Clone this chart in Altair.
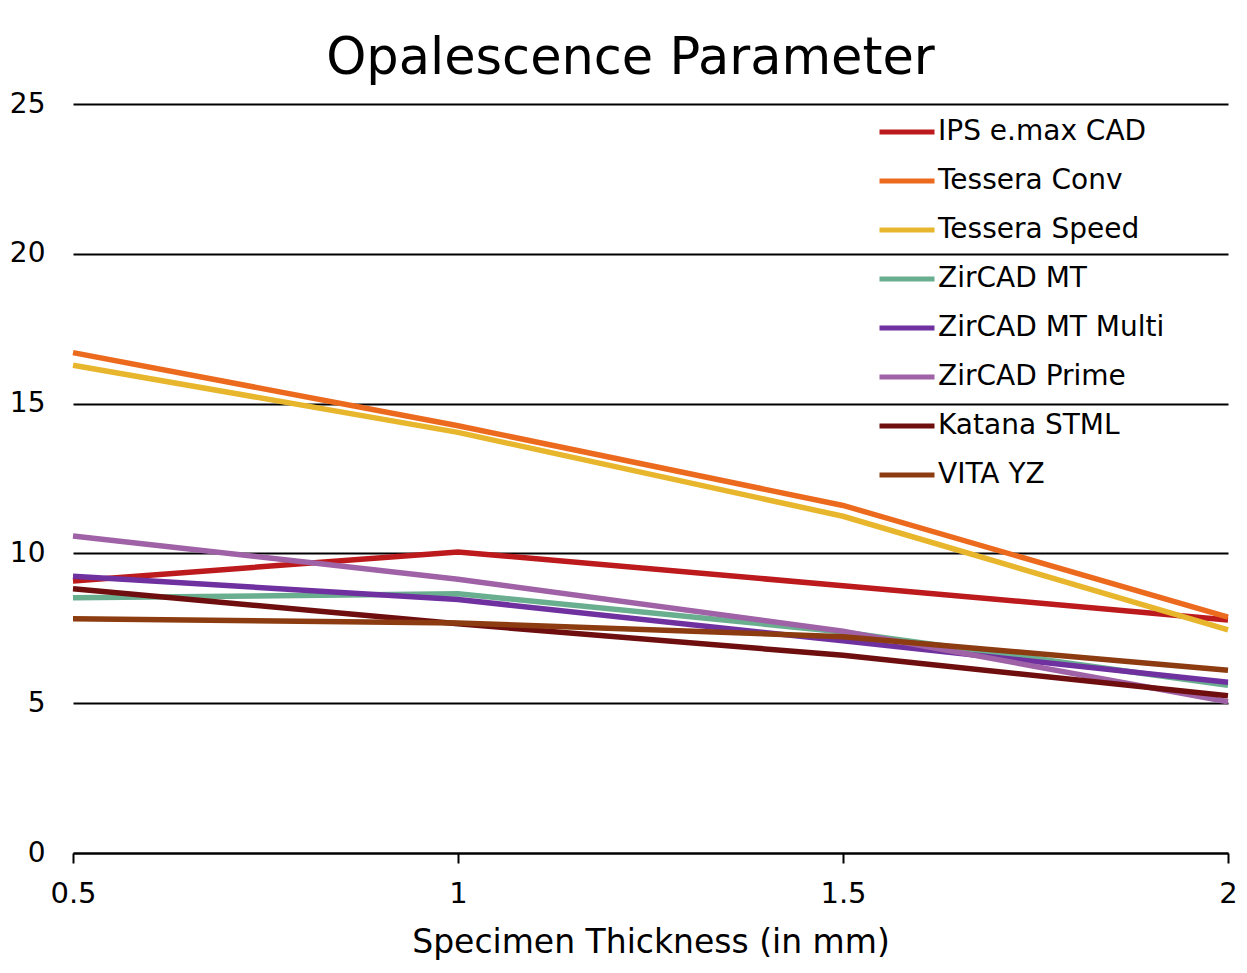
import altair as alt
import pandas as pd

thickness = [0.5, 1.0, 1.5, 2.0]
series_names = ["IPS e.max CAD", "Tessera Conv", "Tessera Speed", "ZirCAD MT",
                "ZirCAD MT Multi", "ZirCAD Prime", "Katana STML", "VITA YZ"]
ips_emax = [9.08, 10.05, 8.92, 7.78]
tessera_conv = [16.70, 14.26, 11.60, 7.87]
tessera_speed = [16.28, 14.04, 11.24, 7.45]
zircad_mt = [8.52, 8.65, 7.38, 5.60]
zircad_mt_multi = [9.24, 8.46, 7.08, 5.70]
zircad_prime = [10.58, 9.14, 7.40, 5.05]
katana_stml = [8.82, 7.65, 6.60, 5.25]
vita_yz = [7.82, 7.68, 7.22, 6.10]
colors = ["#BC1A1C", "#EC6A1E", "#E8B62C", "#69AE8F",
          "#7031A0", "#A062A6", "#6E0E0E", "#8C3C10"]

all_values = [ips_emax, tessera_conv, tessera_speed, zircad_mt,
              zircad_mt_multi, zircad_prime, katana_stml, vita_yz]
rows = []
for i, (name, vals) in enumerate(zip(series_names, all_values)):
    for t, v in zip(thickness, vals):
        rows.append({"series": name, "thickness": t, "value": v, "idx": i})
df = pd.DataFrame(rows)

FONT = "DejaVu Sans"

chart = alt.Chart(df).mark_line(strokeWidth=5.5, strokeCap="butt").encode(
    x=alt.X("thickness:Q",
            scale=alt.Scale(domain=[0.5, 2], nice=False, zero=False),
            axis=alt.Axis(values=[0.5, 1, 1.5, 2], format="~g",
                          title="Specimen Thickness (in mm)",
                          grid=False, domainColor="black", domainWidth=2,
                          tickColor="black", tickWidth=2, tickSize=10,
                          labelFontSize=29, labelPadding=16, labelColor="black",
                          labelFlush=False, labelAlign="center", labelOverlap=False,
                          labelFont=FONT, titleFont=FONT, titleFontSize=33,
                          titleFontWeight="normal", titleColor="black",
                          titlePadding=18)),
    y=alt.Y("value:Q",
            scale=alt.Scale(domain=[0, 25], nice=False),
            axis=alt.Axis(values=[0, 5, 10, 15, 20, 25], title=None,
                          grid=True, gridColor="black", gridWidth=2,
                          domain=False, ticks=False, labelFontSize=28,
                          labelPadding=28, labelColor="black", labelFont=FONT)),
    color=alt.Color("series:N",
                    scale=alt.Scale(domain=series_names, range=colors),
                    legend=alt.Legend(title=None, orient="none", legendX=804, legendY=-2,
                                      symbolType="stroke", symbolSize=3025,
                                      symbolStrokeWidth=5, labelFontSize=28,
                                      labelFont=FONT, labelColor="black",
                                      labelOffset=1, rowPadding=5,
                                      labelLimit=400)),
    order=alt.Order("thickness:Q"),
    detail="idx:O",
).properties(
    width=1155,
    height=749,
    title=alt.TitleParams("Opalescence Parameter", fontSize=51, font=FONT,
                          fontWeight="normal", color="black", anchor="middle",
                          dx=-20, offset=5),
    padding={"left": 65, "top": 96, "right": 10, "bottom": 112},
    autosize=alt.AutoSizeParams(type="none"),
).configure(background="white").configure_view(stroke=None)

chart.save("out.html", embed_options={"renderer": "svg", "actions": False})
